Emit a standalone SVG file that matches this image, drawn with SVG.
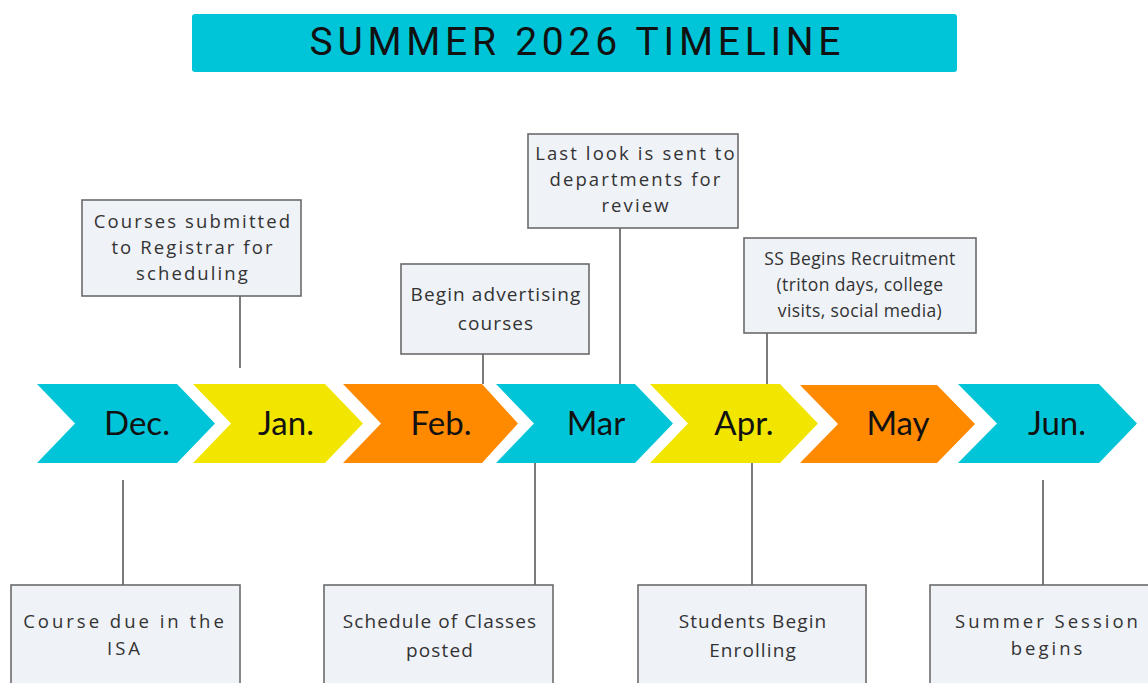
<svg xmlns="http://www.w3.org/2000/svg" width="1148" height="683" viewBox="0 0 1148 683">
<style>
.cyan{fill:#00C5D8}
.yellow{fill:#F2E600}
.orange{fill:#FF8A00}
.mon{font-family:"Lato","Noto Sans",sans-serif;font-size:33px;fill:#111;text-anchor:middle}
.box{fill:#EFF2F7;stroke:#6b6b6b;stroke-width:1.6}
.t{font-family:"Open Sans","Lato",sans-serif;font-size:19px;letter-spacing:1.1px;fill:#333;text-anchor:middle}
.s1{font-size:18.5px;letter-spacing:2.1px}
.s2{font-size:18.5px;letter-spacing:3px}
.ss{font-size:17.5px;letter-spacing:0.4px}
.ln{stroke:#444;stroke-width:1.4;fill:none}
</style>
<rect width="1148" height="683" fill="#fff"/>
<g id="title">
<rect x="192" y="14" width="765" height="58" rx="3" class="cyan"/>
<text x="575" y="55" font-family="Roboto,'Liberation Sans',sans-serif" font-size="39" fill="#111" text-anchor="middle" textLength="531" lengthAdjust="spacing">SUMMER 2026 TIMELINE</text>
</g>
<g id="connectors">
<line class="ln" x1="240" y1="296" x2="240" y2="368"/>
<line class="ln" x1="483" y1="354" x2="483" y2="384"/>
<line class="ln" x1="620" y1="228" x2="620" y2="384"/>
<line class="ln" x1="767" y1="333" x2="767" y2="384"/>
<line class="ln" x1="123" y1="480" x2="123" y2="585"/>
<line class="ln" x1="535" y1="449" x2="535" y2="585"/>
<line class="ln" x1="752" y1="463" x2="752" y2="585"/>
<line class="ln" x1="1043" y1="480" x2="1043" y2="585"/>
</g>
<g id="dec"><polygon class="cyan" points="37,384 177,384 215,423.5 177,463 37,463 75,423.5"/><text class="mon" x="137" y="435">Dec.</text></g>
<g id="jan"><polygon class="yellow" points="193,384 325,384 363,423.5 325,463 193,463 231,423.5"/><text class="mon" x="286" y="435">Jan.</text></g>
<g id="feb"><polygon class="orange" points="343,384 482,384 518,423.5 482,463 343,463 381,423.5"/><text class="mon" x="441" y="435">Feb.</text></g>
<g id="mar"><polygon class="cyan" points="496,384 635,384 673,423.5 635,463 496,463 534,423.5"/><text class="mon" x="596" y="435">Mar</text></g>
<g id="apr"><polygon class="yellow" points="650,384 780,384 818,423.5 780,463 650,463 688,423.5"/><text class="mon" x="744" y="435">Apr.</text></g>
<g id="may"><polygon class="orange" points="800,385 937,385 975,424 937,463 800,463 838,424"/><text class="mon" x="898" y="435">May</text></g>
<g id="jun"><polygon class="cyan" points="958,384 1099,384 1137,423.5 1099,463 958,463 997,423.5"/><text class="mon" x="1057" y="435">Jun.</text></g>
<g id="box-courses-submitted"><rect class="box" x="82" y="200" width="219" height="96"/>
<text class="t s1" x="193" y="228">Courses submitted</text>
<text class="t s1" x="193" y="254">to Registrar for</text>
<text class="t s1" x="193" y="280">scheduling</text></g>
<g id="box-begin-advertising"><rect class="box" x="401" y="264" width="188" height="90"/>
<text class="t" x="496" y="301">Begin advertising</text>
<text class="t" x="496" y="330">courses</text></g>
<g id="box-last-look"><rect class="box" x="528" y="134" width="210" height="94"/>
<text class="t s1" x="636" y="160">Last look is sent to</text>
<text class="t s1" x="636" y="186">departments for</text>
<text class="t s1" x="636" y="212">review</text></g>
<g id="box-ss-recruitment"><rect class="box" x="744" y="238" width="232" height="95"/>
<text class="t ss" x="860" y="265">SS Begins Recruitment</text>
<text class="t ss" x="860" y="291">(triton days, college</text>
<text class="t ss" x="860" y="317">visits, social media)</text></g>
<g id="box-course-due"><rect class="box" x="11" y="585" width="229" height="110"/>
<text class="t s2" x="125" y="628">Course due in the</text>
<text class="t s2" x="125" y="655">ISA</text></g>
<g id="box-schedule"><rect class="box" x="324" y="585" width="229" height="110"/>
<text class="t" x="440" y="628">Schedule of Classes</text>
<text class="t" x="440" y="657">posted</text></g>
<g id="box-students"><rect class="box" x="638" y="585" width="228" height="110"/>
<text class="t" x="753" y="628">Students Begin</text>
<text class="t" x="753" y="657">Enrolling</text></g>
<g id="box-summer-session"><rect class="box" x="930" y="585" width="240" height="110"/>
<text class="t s2" x="1048" y="628" letter-spacing="3.2">Summer Session</text>
<text class="t s2" x="1048" y="655">begins</text></g>
</svg>
